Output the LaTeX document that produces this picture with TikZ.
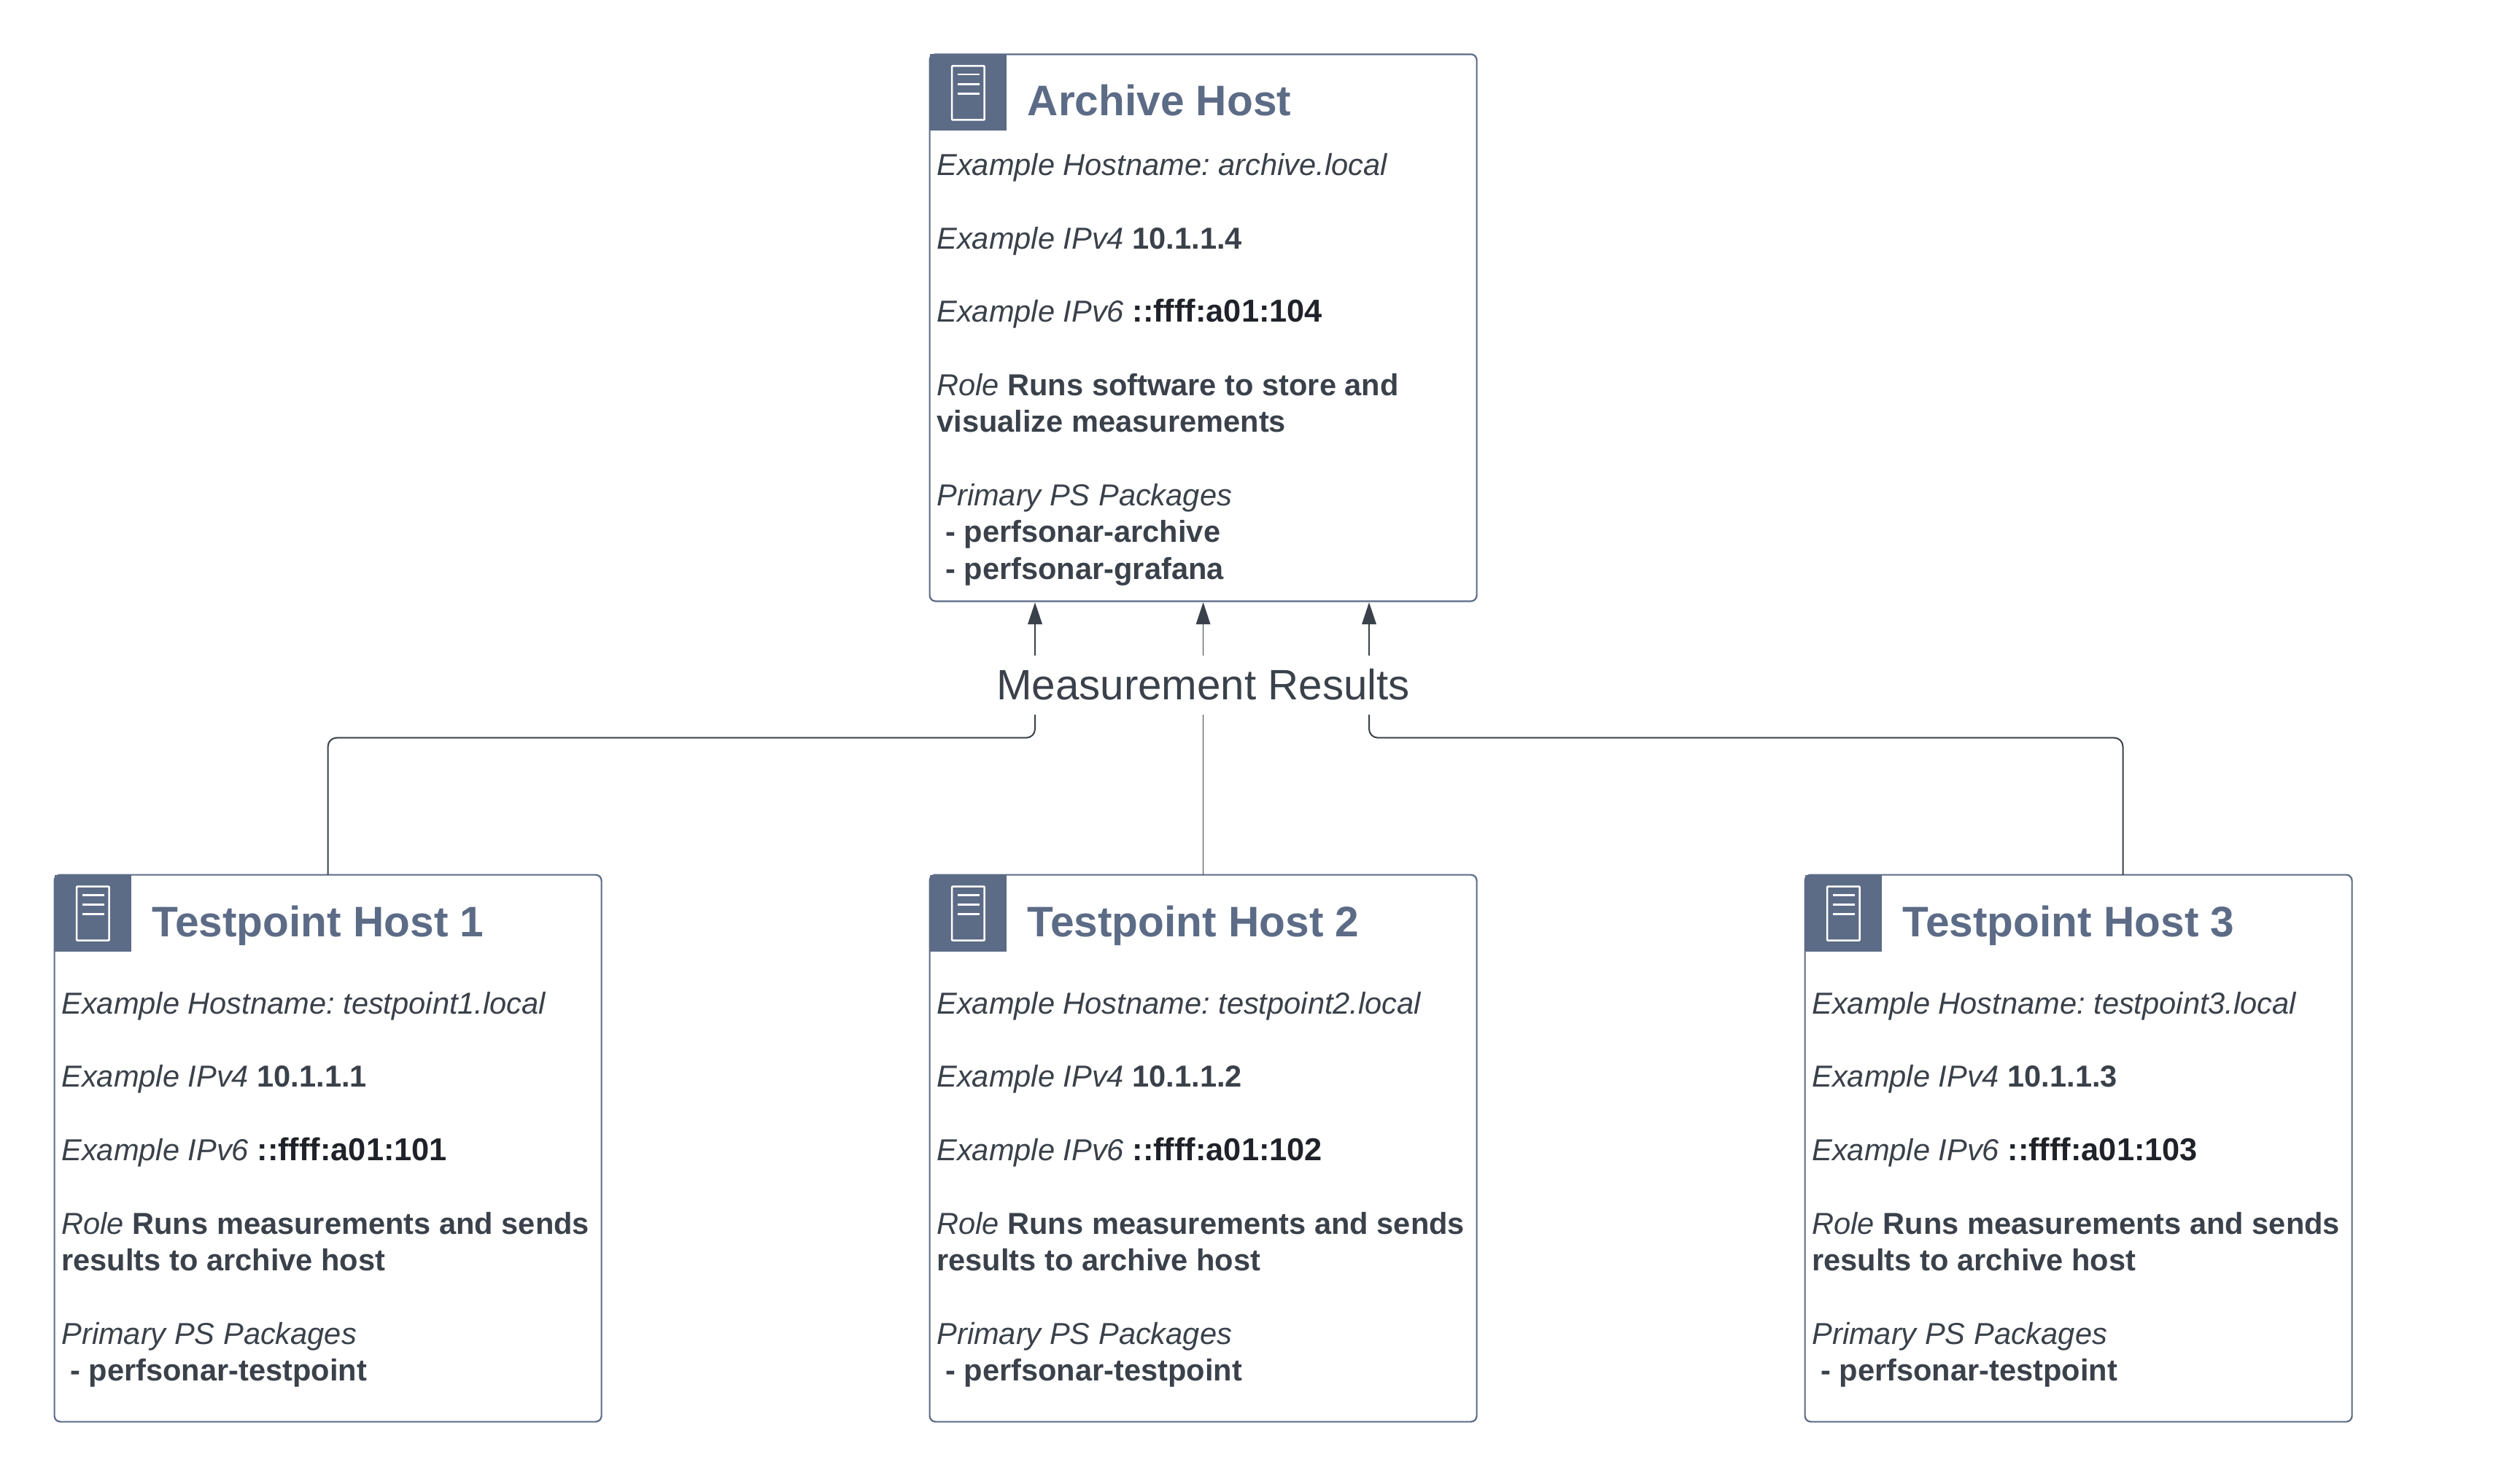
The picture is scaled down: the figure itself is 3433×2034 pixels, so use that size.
\documentclass[tikz,border=0pt]{standalone}
\usepackage{fontspec}
\setmainfont{Liberation Sans}
\usetikzlibrary{arrows.meta}
\definecolor{hostblue}{HTML}{5C6B86}
\definecolor{bodygrey}{HTML}{3A414A}
\definecolor{darkgrey}{HTML}{1F2329}
\newcommand{\addrtext}[1]{\textcolor{darkgrey}{\fontsize{43.4}{50.3}\selectfont\textbf{#1}}}
\tikzset{
    hostbox/.style={draw=hostblue, line width=2.2pt, rounded corners=8pt, fill=white, anchor=north west,
        minimum width=750pt, minimum height=750pt, inner sep=0pt, outer sep=0pt},
    iconbox/.style={fill=hostblue, anchor=north west, minimum size=105pt, inner sep=0pt, outer sep=0pt},
    hosttitle/.style={anchor=base west, inner sep=0pt, text=hostblue, font=\fontsize{58.6}{66}\selectfont\bfseries},
    hosttext/.style={anchor=north west, inner sep=0pt, align=left, text=bodygrey, font=\fontsize{41.6}{50.3}\selectfont\frenchspacing},
    thinconn/.style={draw=bodygrey, line width=1.5pt},
    conn/.style={draw=bodygrey, line width=2pt},
    tip/.style={-{Triangle[length=30pt,width=19.5pt]}},
    server/.pic={
        \draw[white, line width=2.6pt, rounded corners=1pt] (30.5,16) rectangle (75,90);
        \draw[white, line width=2.6pt] (38,27.7) -- (68,27.7);
        \draw[white, line width=2.6pt] (38,41) -- (68,41);
        \draw[white, line width=2.6pt] (38,54) -- (68,54);
    }
}
\begin{document}
\begin{tikzpicture}[x=1pt, y=-1pt]
    \useasboundingbox (0,0) rectangle (3433,2034);

    % Archive host
    \node[hostbox] (archive) at (1274.6,74.4) {};
    \node[iconbox] (archiveicon) at (archive.north west) {};
    \pic at (archive.north west) {server};
    \node[hosttitle] (archivetitle) at (1408.6,158) {Archive Host};
    \node[hosttext] (archivetext) at (1284.2,210.4) {\textit{Example Hostname: archive.local}\\ \\
        \textit{Example IPv4} \textbf{10.1.1.4}\\ \\
        \textit{Example IPv6} \addrtext{::ffff:a01:104}\\ \\
        \textit{Role} \textbf{Runs software to store and}\\
        \textbf{visualize measurements}\\ \\
        \textit{Primary PS Packages}\\
        \hspace*{12pt}\textbf{- perfsonar-archive}\\
        \hspace*{12pt}\textbf{- perfsonar-grafana}};

    % Testpoint host 1
    \node[hostbox] (testpointa) at (74.6,1199.6) {};
    \node[iconbox] (testpointaicon) at (testpointa.north west) {};
    \pic at (testpointa.north west) {server};
    \node[hosttitle] (testpointatitle) at (208.6,1284.4) {Testpoint Host 1};
    \node[hosttext] (testpointatext) at (84.2,1360) {\textit{Example Hostname: testpoint1.local}\\ \\
        \textit{Example IPv4} \textbf{10.1.1.1}\\ \\
        \textit{Example IPv6} \addrtext{::ffff:a01:101}\\ \\
        \textit{Role} \textbf{Runs measurements and sends}\\
        \textbf{results to archive host}\\ \\
        \textit{Primary PS Packages}\\
        \hspace*{12pt}\textbf{- perfsonar-testpoint}};

    % Testpoint host 2
    \node[hostbox] (testpointb) at (1274.6,1199.6) {};
    \node[iconbox] (testpointbicon) at (testpointb.north west) {};
    \pic at (testpointb.north west) {server};
    \node[hosttitle] (testpointbtitle) at (1408.6,1284.4) {Testpoint Host 2};
    \node[hosttext] (testpointbtext) at (1284.2,1360) {\textit{Example Hostname: testpoint2.local}\\ \\
        \textit{Example IPv4} \textbf{10.1.1.2}\\ \\
        \textit{Example IPv6} \addrtext{::ffff:a01:102}\\ \\
        \textit{Role} \textbf{Runs measurements and sends}\\
        \textbf{results to archive host}\\ \\
        \textit{Primary PS Packages}\\
        \hspace*{12pt}\textbf{- perfsonar-testpoint}};

    % Testpoint host 3
    \node[hostbox] (testpointc) at (2474.6,1199.6) {};
    \node[iconbox] (testpointcicon) at (testpointc.north west) {};
    \pic at (testpointc.north west) {server};
    \node[hosttitle] (testpointctitle) at (2608.6,1284.4) {Testpoint Host 3};
    \node[hosttext] (testpointctext) at (2484.2,1360) {\textit{Example Hostname: testpoint3.local}\\ \\
        \textit{Example IPv4} \textbf{10.1.1.3}\\ \\
        \textit{Example IPv6} \addrtext{::ffff:a01:103}\\ \\
        \textit{Role} \textbf{Runs measurements and sends}\\
        \textbf{results to archive host}\\ \\
        \textit{Primary PS Packages}\\
        \hspace*{12pt}\textbf{- perfsonar-testpoint}};

    % Measurement label
    \node[anchor=base, inner sep=0pt, text=bodygrey, font=\fontsize{58.3}{66}\selectfont] (results) at (1649.6,959.5) {Measurement Results};

    % Ends of the connectors
    \coordinate (upa) at (1419,899);
    \coordinate (upb) at (1649.6,899);
    \coordinate (upc) at (1877,899);
    \coordinate (ina) at (1419,826);
    \coordinate (inb) at (1649.6,826);
    \coordinate (inc) at (1877,826);
    \coordinate (lowa) at (1419,980);
    \coordinate (lowb) at (1649.6,980);
    \coordinate (lowc) at (1877,980);
    \coordinate (topc) at (2910.5,1199.6);

    % Arrows into the archive
    \draw[conn, tip] (upa) -- (ina);
    \draw[thinconn, tip] (upb) -- (inb);
    \draw[conn, tip] (upc) -- (inc);

    % Lines up from the testpoints
    \draw[conn, rounded corners=12pt] (testpointa.north) |- ([yshift=-31.7pt]lowa) -- (lowa);
    \draw[thinconn] (testpointb.north) -- (lowb);
    \draw[conn, rounded corners=12pt] (topc) |- ([yshift=-31.7pt]lowc) -- (lowc);
\end{tikzpicture}
\end{document}
